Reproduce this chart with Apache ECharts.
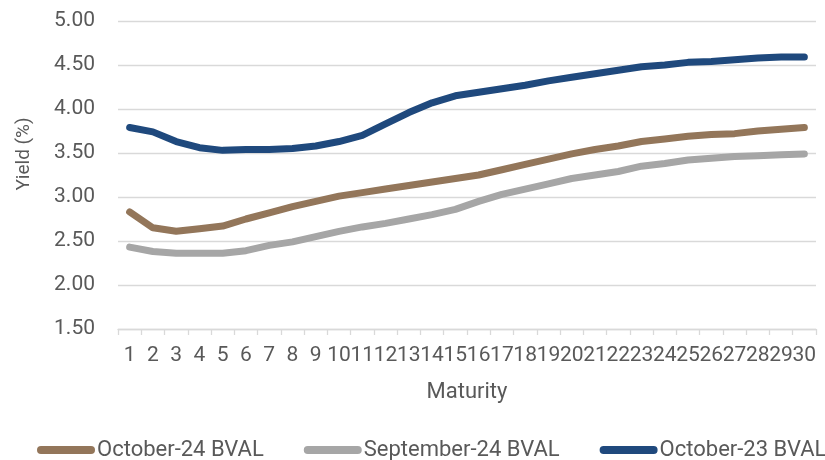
<!DOCTYPE html>
<html>
<head>
<meta charset="utf-8">
<script src="https://cdn.jsdelivr.net/npm/echarts@6/dist/echarts.min.js"></script>
<style>
html,body{margin:0;padding:0;background:#fff;}
#chart{width:825px;height:460px;}
</style>
</head>
<body>
<div id="chart"></div>
<script>
var maturities = ['1','2','3','4','5','6','7','8','9','10','11','12','13','14','15','16','17','18','19','20','21','22','23','24','25','26','27','28','29','30'];
var oct24 = [2.83,2.65,2.61,2.64,2.67,2.75,2.82,2.89,2.95,3.01,3.05,3.09,3.13,3.17,3.21,3.25,3.31,3.37,3.43,3.49,3.54,3.58,3.63,3.66,3.69,3.71,3.72,3.75,3.77,3.79];
var sep24 = [2.43,2.38,2.36,2.36,2.36,2.39,2.45,2.49,2.55,2.61,2.66,2.70,2.75,2.80,2.86,2.95,3.03,3.09,3.15,3.21,3.25,3.29,3.35,3.38,3.42,3.44,3.46,3.47,3.48,3.49];
var oct23 = [3.79,3.74,3.63,3.56,3.53,3.54,3.54,3.55,3.58,3.63,3.70,3.83,3.96,4.07,4.15,4.19,4.23,4.27,4.32,4.36,4.40,4.44,4.48,4.50,4.53,4.54,4.56,4.58,4.59,4.59];
var seriesNames = ['October-24 BVAL','September-24 BVAL','October-23 BVAL'];
var colors = ['#93765A','#A6A6A6','#1F497D'];

var FONT = 'Roboto';
var chart = echarts.init(document.getElementById('chart'), null, {renderer:'canvas'});
function mk(name, data, color){
  return {
    name:name, type:'line', data:data, showSymbol:false, symbol:'none',
    lineStyle:{color:color, width:7, cap:'round', join:'round'},
    itemStyle:{color:color}, animation:false
  };
}
var capsule = 'path://M4,0 L54,0 A4,4 0 0 1 54,8 L4,8 A4,4 0 0 1 4,0 Z';
chart.setOption({
  animation:false,
  color:colors,
  grid:{left:118, right:9, top:21, bottom:131, containLabel:false},
  legend:{
    data:seriesNames, left:37, top:439, width:1200, padding:0, itemGap:40, itemWidth:58, itemHeight:8,
    icon:capsule,
    textStyle:{fontFamily:FONT, fontSize:22, color:'#595959', padding:[0,0,0,-3]}
  },
  xAxis:{
    type:'category', data:maturities, boundaryGap:true,
    name:'Maturity', nameLocation:'middle', nameGap:52,
    nameTextStyle:{fontFamily:FONT, fontSize:22, color:'#595959'},
    axisLine:{lineStyle:{color:'#D9D9D9', width:1.3}},
    axisTick:{show:true, length:6, lineStyle:{color:'#D9D9D9', width:1.3}},
    axisLabel:{interval:0, fontFamily:FONT, fontSize:21, color:'#595959', margin:16}
  },
  yAxis:{
    type:'value', min:1.5, max:5, interval:0.5,
    axisLine:{show:false}, axisTick:{show:false},
    axisLabel:{fontFamily:FONT, fontSize:21, color:'#595959', margin:23,
      formatter:function(v){return v.toFixed(2);}},
    splitLine:{lineStyle:{color:'#D9D9D9', width:1.3}}
  },
  graphic:[{
    type:'text', x:24, y:154, rotation:Math.PI/2,
    style:{text:'Yield (%)', fontFamily:FONT, fontSize:19, fill:'#595959', align:'center', verticalAlign:'middle'}
  }],
  series:[mk(seriesNames[0], oct24, colors[0]), mk(seriesNames[1], sep24, colors[1]), mk(seriesNames[2], oct23, colors[2])]
});
</script>
</body>
</html>
